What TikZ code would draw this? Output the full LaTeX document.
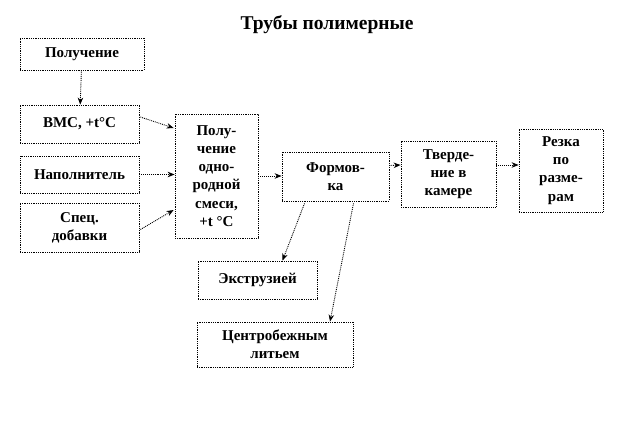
\documentclass[tikz,border=0pt]{standalone}
\usepackage{fontspec}
\setmainfont{Liberation Serif}
\usepackage{tikz}
\usetikzlibrary{arrows.meta}
\usetikzlibrary{calc,positioning}

\begin{document}
\begin{tikzpicture}[x=1pt,y=-1pt,font=\bfseries\fontsize{15}{18.3}\selectfont]
			\useasboundingbox (0,0) rectangle (618,432);
			\node[font=\bfseries\fontsize{19.5}{22}\selectfont] (title) at (327,25) {Трубы полимерные};

			\begin{scope}[every node/.style={rectangle,draw=black,densely dotted,line width=0.8pt,inner sep=1pt,align=center}]
				\node[minimum width=124pt,minimum height=32pt] (pol) at (82,54) {Получение};
				\node[minimum width=119pt,minimum height=38pt] (vms) at (79.5,124) {ВМС, +t°С};
				\node[minimum width=119pt,minimum height=37pt] (nap) at (79.5,174.5) {Наполнитель};
				\node[minimum width=119pt,minimum height=49pt] (spec) at (79.5,227.5) {Спец.\\добавки};
				\node[minimum width=83pt,minimum height=124pt] (mix) at (216.5,176) {Полу-\\чение\\одно-\\родной\\смеси,\\+t °С};
				\node[minimum width=107pt,minimum height=49pt] (form) at (335.5,176.5) {Формов-\\ка};
				\node[minimum width=95pt,minimum height=66pt] (tverd) at (448.5,174) {Тверде-\\ние в\\камере};
				\node[minimum width=84pt,minimum height=83pt] (rezka) at (561,170.5) {Резка\\по\\разме-\\рам};
				\node[minimum width=119pt,minimum height=38pt] (extr) at (257.5,280) {Экструзией};
				\node[minimum width=156pt,minimum height=45pt] (centr) at (275,344.5) {Центробежным\\литьем};
			\end{scope}

			\begin{scope}[>={Stealth[black,length=7pt,width=5.5pt]},
				every edge/.style={draw=black,densely dotted,line width=0.9pt}]
				\path[->] (pol) edge (vms);
				\path[->] (vms.east) ++(1,-7) edge ($(mix.west)+(-1,-48)$);
				\path[->] (nap) edge (nap -| mix.west);
				\path[->] ($(spec.east)+(1,2)$) edge ($(mix.west)+(-1,34)$);
				\path[->] (mix) edge (mix -| form.west);
				\path[->] ($(form.east)+(0,-11)$) edge ($(tverd.west)+(0,-9)$);
				\path[->] ($(tverd.east)+(0,-9)$) edge ($(rezka.west)+(0,-5.5)$);
				\path[->] ($(form.south)+(-31,2)$) edge ($(extr.north)+(25,0)$);
				\path[->] ($(form.south)+(18,2)$) edge ($(centr.north)+(55,0)$);
			\end{scope}
		\end{tikzpicture}
\end{document}
